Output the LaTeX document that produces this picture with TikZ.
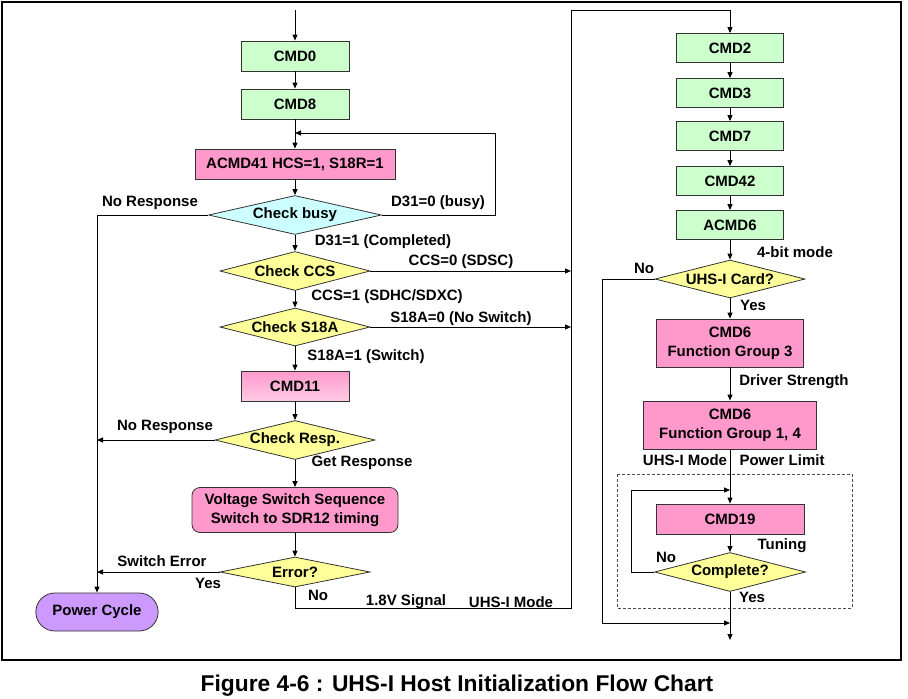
\documentclass[tikz,border=0pt]{standalone}
\usepackage{fontspec}
\setmainfont{Liberation Sans}
\usetikzlibrary{arrows.meta, shapes.geometric, shapes.misc}

\definecolor{cgreen}{HTML}{CCFFCC}
\definecolor{cpink}{HTML}{FF99CC}
\definecolor{cpinklt}{HTML}{FFCCE6}
\definecolor{ccyan}{HTML}{CCFFFF}
\definecolor{cyellow}{HTML}{FFFF99}
\definecolor{cviolet}{HTML}{CC99FF}

\begin{document}
\begin{tikzpicture}[
  x=1pt, y=-1pt,
  font=\fontsize{15}{19}\selectfont\bfseries,
  box/.style={rectangle, draw=black!80, line width=0.8pt,
              minimum height=30pt, inner sep=2pt, align=center},
  greenbox/.style={box, fill=cgreen, minimum width=108pt},
  pinkbox/.style={box, fill=cpink},
  decision/.style={diamond, draw=black!80, line width=0.8pt, fill=cyellow,
                   aspect=5, inner sep=0pt, minimum width=150pt, minimum height=39pt},
  arrow/.style={-{Triangle[length=6pt, width=5pt]}, line width=0.9pt},
  lbl/.style={inner sep=0pt},
]
  \useasboundingbox (0,0) rectangle (908,699);
  \draw[line width=2.5pt] (2,2) rectangle (901,660);

  % left column
  \node[greenbox] (cmd0) at (295,56) {CMD0};
  \node[greenbox] (cmd8) at (295,104) {CMD8};
  \node[pinkbox, minimum width=200pt] (acmd41) at (295,164) {ACMD41 HCS=1, S18R=1};
  \node[decision, fill=ccyan, minimum width=173pt] (busy) at (295,215) {Check busy};
  \node[decision] (ccs) at (295,271) {Check CCS};
  \node[decision, minimum height=38pt] (s18a) at (295,327) {Check S18A};
  \node[box, minimum width=108pt, top color=cpink, bottom color=cpinklt] (cmd11) at (295,386) {CMD11};
  \node[decision, minimum width=151pt] (resp) at (295,440) {Check Resp.};
  \node[pinkbox, rounded corners=8pt, minimum width=206pt, minimum height=45pt] (vss) at (295,510)
    {Voltage Switch Sequence\\Switch to SDR12 timing};
  \node[decision, minimum height=30pt] (err) at (295,572) {Error?};
  \node[rounded rectangle, draw=black!80, line width=0.8pt, fill=cviolet,
        minimum width=129pt, minimum height=38pt] (power) at (97,612) {Power Cycle};

  % right column
  \node[greenbox, minimum width=107pt, minimum height=29pt] (cmd2) at (730,48) {CMD2};
  \node[greenbox, minimum width=107pt, minimum height=29pt] (cmd3) at (730,93) {CMD3};
  \node[greenbox, minimum width=107pt, minimum height=29pt] (cmd7) at (730,136) {CMD7};
  \node[greenbox, minimum width=107pt, minimum height=29pt] (cmd42) at (730,181) {CMD42};
  \node[greenbox, minimum width=107pt, minimum height=29pt] (acmd6) at (730,225) {ACMD6};
  \node[decision, minimum height=38pt] (uhs) at (730,279) {UHS-I Card?};
  \node[pinkbox, minimum width=147pt, minimum height=48pt] (fg3) at (730,343) {CMD6\\Function Group 3};
  \node[pinkbox, minimum width=173pt, minimum height=48pt] (fg14) at (730,425) {CMD6\\Function Group 1, 4};
  \node[pinkbox, minimum width=148pt] (cmd19) at (730,519) {CMD19};
  \node[decision, minimum width=151pt] (complete) at (730,572) {Complete?};
  \draw[gray!60!black, line width=0.8pt, dash pattern=on 3pt off 2pt] (617,474) rectangle (852,608);

  \coordinate (start) at (295,10);
  \coordinate (loopR) at (495,133);
  \coordinate (busT) at (571,10);
  \coordinate (busB) at (571,608);
  \coordinate (bypL) at (602,623);
  \coordinate (tuneL) at (631,490);
  \coordinate (finish) at (730,640);

  \draw[arrow] (start) -- (cmd0);
  \draw[arrow] (cmd0) -- (cmd8);
  \draw[arrow] (cmd8) -- (acmd41);
  \draw[arrow] (acmd41) -- (busy);
  \draw[arrow] (busy.east) -| (loopR) -- (acmd41.north |- loopR);
  \draw[arrow] (busy.west) -| (power.north);
  \draw[arrow] (busy) -- (ccs);
  \draw[arrow] (ccs.east) -- (ccs.east -| busT);
  \draw[arrow] (ccs) -- (s18a);
  \draw[arrow] (s18a.east) -- (s18a.east -| busT);
  \draw[arrow] (s18a) -- (cmd11);
  \draw[arrow] (cmd11) -- (resp);
  \draw[arrow] (resp.west) -- (resp.west -| power.north);
  \draw[arrow] (resp) -- (vss);
  \draw[arrow] (vss) -- (err);
  \draw[arrow] (err.west) -- (err.west -| power.north);
  \draw[arrow] (err.south) |- (busB) -- (busT) -| (cmd2.north);

  \draw[arrow] (cmd2) -- (cmd3);
  \draw[arrow] (cmd3) -- (cmd7);
  \draw[arrow] (cmd7) -- (cmd42);
  \draw[arrow] (cmd42) -- (acmd6);
  \draw[arrow] (acmd6) -- (uhs);
  \draw[arrow] (uhs) -- (fg3);
  \draw[arrow] (uhs.west) -| (bypL) -- (bypL -| finish);
  \draw[arrow] (fg3) -- (fg14);
  \draw[arrow] (fg14) -- (cmd19);
  \draw[arrow] (cmd19) -- (complete);
  \draw[arrow] (complete.west) -| (tuneL) -- (tuneL -| cmd19.north);
  \draw[arrow] (complete.south) -- (finish);

  % labels
  \node[lbl] (nr1) at (150,203) {No Response};
  \node[lbl] (d310) at (438,203) {D31=0 (busy)};
  \node[lbl] (d311) at (383,242) {D31=1 (Completed)};
  \node[lbl] (ccs0) at (461,262) {CCS=0 (SDSC)};
  \node[lbl] (ccs1) at (387,297) {CCS=1 (SDHC/SDXC)};
  \node[lbl] (s18a0) at (461,319) {S18A=0 (No Switch)};
  \node[lbl] (s18a1) at (366,357) {S18A=1 (Switch)};
  \node[lbl] (nr2) at (165,427) {No Response};
  \node[lbl] (getr) at (362,463) {Get Response};
  \node[lbl] (swerr) at (162,561) {Switch Error};
  \node[lbl] (yes1) at (208,583) {Yes};
  \node[lbl] (no1) at (318,595) {No};
  \node[lbl] (sig18) at (406,602) {1.8V Signal};
  \node[lbl] (uhsm1) at (511,602) {UHS-I Mode};
  \node[lbl] (bit4) at (795,252) {4-bit mode};
  \node[lbl] (no2) at (644,268) {No};
  \node[lbl] (yes2) at (753,305) {Yes};
  \node[lbl] (drv) at (794,382) {Driver Strength};
  \node[lbl] (uhsm2) at (685,460) {UHS-I Mode};
  \node[lbl] (plim) at (782,460) {Power Limit};
  \node[lbl] (tun) at (782,546) {Tuning};
  \node[lbl] (no3) at (666,557) {No};
  \node[lbl] (yes3) at (752,597) {Yes};

  \node[lbl, font=\fontsize{22.8}{26}\selectfont\bfseries] (caption) at (457,686)
    {Figure 4-6 : UHS-I Host Initialization Flow Chart};
\end{tikzpicture}
\end{document}
